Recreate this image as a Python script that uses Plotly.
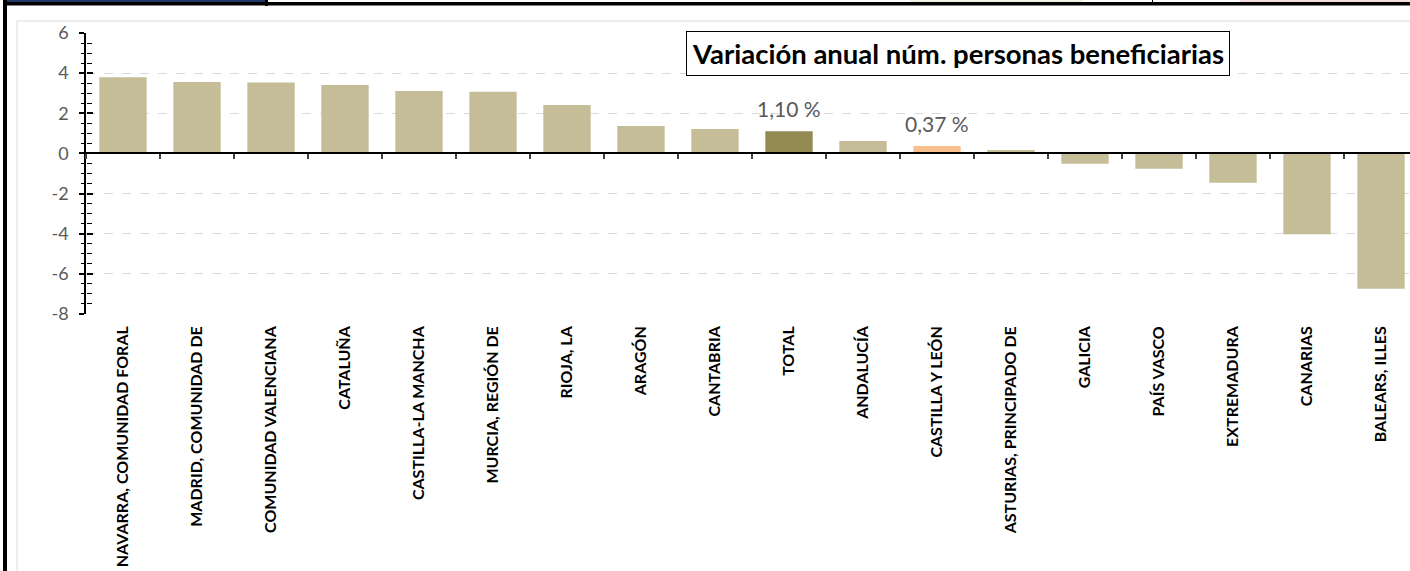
import plotly.graph_objects as go

W, H = 1410, 571

categories = [
    "NAVARRA, COMUNIDAD FORAL", "MADRID, COMUNIDAD DE", "COMUNIDAD VALENCIANA",
    "CATALUÑA", "CASTILLA-LA MANCHA", "MURCIA, REGIÓN DE", "RIOJA, LA", "ARAGÓN",
    "CANTABRIA", "TOTAL", "ANDALUCÍA", "CASTILLA Y LEÓN", "ASTURIAS, PRINCIPADO DE",
    "GALICIA", "PAÍS VASCO", "EXTREMADURA", "CANARIAS", "BALEARS, ILLES",
]
values = [3.79, 3.56, 3.54, 3.41, 3.11, 3.07, 2.41, 1.37, 1.22, 1.10, 0.62, 0.37,
          0.17, -0.51, -0.76, -1.46, -4.03, -6.74]
labelled = {"TOTAL": "1,10 %", "CASTILLA Y LEÓN": "0,37 %"}
title_text = "Variación anual núm. personas beneficiarias"
y_tickvals = [-8, -6, -4, -2, 0, 2, 4, 6]
y_ticktext = ["-8", "-6", "-4", "-2", "0", "2", "4", "6"]

BASE = "#c4bd97"
TOTAL_C = "#948a54"
CYL_C = "#fabf8f"
colors = [TOTAL_C if c == "TOTAL" else CYL_C if c == "CASTILLA Y LEÓN" else BASE
          for c in categories]

YMIN, YMAX = -8, 6
# pixel layout
PL, PT, PB = 86, 33, 314
CAT_W = 74
x_end = -0.5 + (W - PL) / CAT_W


def px(x):
    return x / W


def py(y):
    return 1 - y / H


ydom = [py(PB), py(PT)]
zero_pos = ydom[0] + (0 - YMIN) / (YMAX - YMIN) * (ydom[1] - ydom[0])

fig = go.Figure()
fig.add_trace(go.Bar(
    x=categories, y=values, marker=dict(color=colors, line=dict(width=0)),
    width=0.64, hoverinfo="x+y", showlegend=False,
))
# helper trace so the overlay axes (cross ticks / zero-line axis) are drawn
fig.add_trace(go.Scatter(x=[None], y=[None], xaxis="x2", yaxis="y2",
                         showlegend=False, hoverinfo="skip"))

font_lbl = "Lato, 'Open Sans', sans-serif"

fig.update_layout(
    template="none",
    width=W, height=H,
    margin=dict(l=0, r=0, t=0, b=0, pad=0, autoexpand=False),
    paper_bgcolor="white", plot_bgcolor="white",
    xaxis=dict(
        domain=[px(PL), 1], range=[-0.5, x_end], type="category", automargin=False,
        showgrid=False, showline=False, zeroline=False, ticks="",
        tickangle=-90, ticklabelstandoff=8,
        tickfont=dict(family=font_lbl, size=16, color="black", weight="bold"),
    ),
    yaxis=dict(
        domain=ydom, range=[YMIN, YMAX], tickvals=y_tickvals, ticktext=y_ticktext,
        automargin=False,
        showgrid=True, gridcolor="#d9d9d9", griddash="dash", gridwidth=1,
        zeroline=False, showline=True, linecolor="black", linewidth=1.5,
        ticks="outside", ticklen=5, tickcolor="black", tickwidth=1.5,
        minor=dict(dtick=0.5, tick0=0, ticks="outside", ticklen=3.5, tickcolor="black",
                   tickwidth=1, showgrid=False),
        ticklabelstandoff=7,
        tickfont=dict(family=font_lbl, size=18, color="#595959"),
    ),
    xaxis2=dict(
        overlaying="x", anchor="free", position=zero_pos, automargin=False,
        domain=[px(PL), 1], range=[-0.5, x_end],
        tickvals=[i - 0.5 for i in range(len(categories) + 1)],
        showticklabels=False, ticks="outside", ticklen=5, tickwidth=1.5,
        tickcolor="#404040", showline=True, linecolor="black", linewidth=1.5,
        showgrid=False, zeroline=False,
    ),
    yaxis2=dict(
        overlaying="y", anchor="free", position=px(PL), range=[YMIN, YMAX],
        automargin=False,
        tickvals=y_tickvals, showticklabels=False, ticks="inside", ticklen=6,
        tickcolor="black", tickwidth=1.5,
        minor=dict(dtick=0.5, tick0=0, ticks="inside", ticklen=4.5, tickcolor="black",
                   tickwidth=1, showgrid=False),
        showline=False, showgrid=False, zeroline=False,
    ),
)

# value labels
for c, v in zip(categories, values):
    if c in labelled:
        fig.add_annotation(x=c, y=v, xref="x", yref="y", text=labelled[c],
                           showarrow=False, yanchor="middle", yshift=23,
                           font=dict(family=font_lbl, size=21, color="#595959"))

# title box
fig.add_annotation(
    x=px(957.5), y=py(53), xref="paper", yref="paper", text=f"<b>{title_text}</b>",
    showarrow=False, xanchor="center", yanchor="middle",
    font=dict(family=font_lbl, size=27.5, color="black"),
    bgcolor="white", bordercolor="black", borderwidth=1, borderpad=5,
)

# surrounding dashboard frame
def rect(x0, y0, x1, y1, fill=None, line=None, lw=0, layer="above"):
    fig.add_shape(type="rect", xref="paper", yref="paper",
                  x0=px(x0), x1=px(x1), y0=py(y1), y1=py(y0),
                  fillcolor=fill, line=dict(color=line, width=lw), layer=layer)

rect(17, 21, 1440, 600, fill=None, line="#d9d9d9", lw=1, layer="below")
rect(3, 0, 7, 571, fill="black")
rect(3, 2, 1410, 5.5, fill="black")
rect(7, 0, 267, 2, fill="#203864")
rect(265, 0, 268, 6, fill="black")
rect(910, 0, 1083, 2, fill="#f2f0e0")
rect(1152, 0, 1153, 2, fill="black")
rect(1240, 0, 1410, 2, fill="#f4dede")

fig.write_html(
    "out.html",
    config={"displayModeBar": False},
    post_script="document.body.style.margin='0';document.body.style.overflow='hidden';",
)
